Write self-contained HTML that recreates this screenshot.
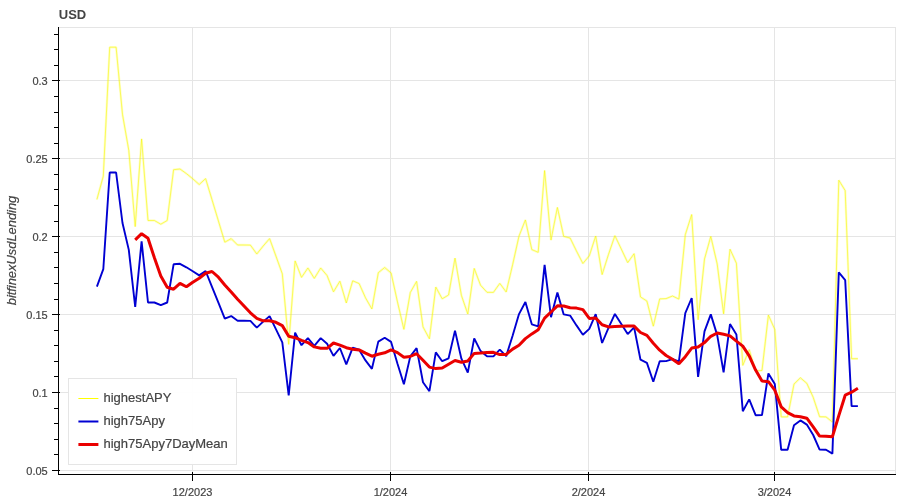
<!DOCTYPE html>
<html><head><meta charset="utf-8"><title>USD</title>
<style>html,body{margin:0;padding:0;background:#fff;overflow:hidden}body{width:900px;height:500px;font-family:"Liberation Sans",sans-serif}</style>
</head><body>
<svg width="900" height="500" viewBox="0 0 900 500" style="display:block;will-change:transform">
<rect x="0" y="0" width="900" height="500" fill="#ffffff"/>
<rect x="58.5" y="27.5" width="837" height="447" fill="none" stroke="#e5e5e5" stroke-width="1"/>
<line x1="192.5" y1="28" x2="192.5" y2="474" stroke="#e5e5e5" stroke-width="1"/>
<line x1="390.5" y1="28" x2="390.5" y2="474" stroke="#e5e5e5" stroke-width="1"/>
<line x1="588.5" y1="28" x2="588.5" y2="474" stroke="#e5e5e5" stroke-width="1"/>
<line x1="774.5" y1="28" x2="774.5" y2="474" stroke="#e5e5e5" stroke-width="1"/>
<line x1="59" y1="80.5" x2="895" y2="80.5" stroke="#e5e5e5" stroke-width="1"/>
<line x1="59" y1="158.5" x2="895" y2="158.5" stroke="#e5e5e5" stroke-width="1"/>
<line x1="59" y1="236.5" x2="895" y2="236.5" stroke="#e5e5e5" stroke-width="1"/>
<line x1="59" y1="314.5" x2="895" y2="314.5" stroke="#e5e5e5" stroke-width="1"/>
<line x1="59" y1="392.5" x2="895" y2="392.5" stroke="#e5e5e5" stroke-width="1"/>
<line x1="59" y1="470.5" x2="895" y2="470.5" stroke="#e5e5e5" stroke-width="1"/>
<polyline points="96.9,199.5 103.3,176.1 109.7,47.2 116.1,47.2 122.5,114.5 128.8,150.4 135.2,226.6 141.6,138.9 148.0,220.5 154.4,220.5 160.8,224.2 167.2,220.5 173.6,169.7 180.0,169.0 186.4,173.6 192.8,178.8 199.2,184.5 205.6,178.6 212.0,199.7 218.4,220.9 224.8,242.2 231.2,238.6 237.6,245.0 244.0,245.0 250.4,245.1 256.8,254.0 263.2,246.0 269.6,238.6 275.9,256.0 282.3,273.8 288.7,344.4 295.1,260.9 301.5,277.4 307.9,268.0 314.3,278.4 320.7,268.0 327.1,275.6 333.5,291.8 339.9,281.2 346.3,303.0 352.7,280.8 359.1,283.5 365.5,297.8 371.9,309.0 378.3,272.7 384.7,267.5 391.1,273.0 397.5,302.1 403.9,329.4 410.3,292.5 416.6,281.4 423.0,326.9 429.4,338.8 435.8,287.1 442.2,298.8 448.6,295.0 455.0,258.1 461.4,295.4 467.8,314.0 474.2,268.4 480.6,285.3 487.0,292.3 493.4,292.4 499.8,283.4 506.2,292.0 512.6,264.8 519.0,236.1 525.4,219.9 531.8,249.6 538.2,252.3 544.6,170.5 551.0,240.1 557.4,207.4 563.7,236.4 570.1,238.0 576.5,251.1 582.9,263.5 589.3,255.8 595.7,236.0 602.1,274.6 608.5,254.4 614.9,235.7 621.3,249.1 627.7,262.6 634.1,253.7 640.5,296.9 646.9,301.1 653.3,326.2 659.7,298.9 666.1,298.6 672.5,296.0 678.9,299.1 685.3,234.7 691.7,214.5 698.1,319.8 704.5,259.0 710.8,236.4 717.2,264.0 723.6,313.8 730.0,249.2 736.4,263.2 742.8,365.4 749.2,349.7 755.6,370.8 762.0,370.5 768.4,315.1 774.8,329.4 781.2,416.9 787.6,416.9 794.0,384.1 800.4,377.8 806.8,383.3 813.2,397.3 819.6,416.7 826.0,416.9 832.4,422.0 838.8,180.2 845.2,190.6 851.6,358.7 857.9,358.7" fill="none" stroke="#ffff00" stroke-opacity="0.22" stroke-width="2.4" stroke-linejoin="bevel"/>
<polyline points="96.9,199.5 103.3,176.1 109.7,47.2 116.1,47.2 122.5,114.5 128.8,150.4 135.2,226.6 141.6,138.9 148.0,220.5 154.4,220.5 160.8,224.2 167.2,220.5 173.6,169.7 180.0,169.0 186.4,173.6 192.8,178.8 199.2,184.5 205.6,178.6 212.0,199.7 218.4,220.9 224.8,242.2 231.2,238.6 237.6,245.0 244.0,245.0 250.4,245.1 256.8,254.0 263.2,246.0 269.6,238.6 275.9,256.0 282.3,273.8 288.7,344.4 295.1,260.9 301.5,277.4 307.9,268.0 314.3,278.4 320.7,268.0 327.1,275.6 333.5,291.8 339.9,281.2 346.3,303.0 352.7,280.8 359.1,283.5 365.5,297.8 371.9,309.0 378.3,272.7 384.7,267.5 391.1,273.0 397.5,302.1 403.9,329.4 410.3,292.5 416.6,281.4 423.0,326.9 429.4,338.8 435.8,287.1 442.2,298.8 448.6,295.0 455.0,258.1 461.4,295.4 467.8,314.0 474.2,268.4 480.6,285.3 487.0,292.3 493.4,292.4 499.8,283.4 506.2,292.0 512.6,264.8 519.0,236.1 525.4,219.9 531.8,249.6 538.2,252.3 544.6,170.5 551.0,240.1 557.4,207.4 563.7,236.4 570.1,238.0 576.5,251.1 582.9,263.5 589.3,255.8 595.7,236.0 602.1,274.6 608.5,254.4 614.9,235.7 621.3,249.1 627.7,262.6 634.1,253.7 640.5,296.9 646.9,301.1 653.3,326.2 659.7,298.9 666.1,298.6 672.5,296.0 678.9,299.1 685.3,234.7 691.7,214.5 698.1,319.8 704.5,259.0 710.8,236.4 717.2,264.0 723.6,313.8 730.0,249.2 736.4,263.2 742.8,365.4 749.2,349.7 755.6,370.8 762.0,370.5 768.4,315.1 774.8,329.4 781.2,416.9 787.6,416.9 794.0,384.1 800.4,377.8 806.8,383.3 813.2,397.3 819.6,416.7 826.0,416.9 832.4,422.0 838.8,180.2 845.2,190.6 851.6,358.7 857.9,358.7" fill="none" stroke="#f6f600" stroke-opacity="0.55" stroke-width="1" stroke-linejoin="bevel"/>
<polyline points="96.9,286.7 103.3,269.2 109.7,172.5 116.1,172.5 122.5,223.0 128.8,249.9 135.2,307.0 141.6,241.3 148.0,302.5 154.4,302.5 160.8,305.2 167.2,302.5 173.6,264.3 180.0,263.8 186.4,267.3 192.8,271.2 199.2,275.4 205.6,271.0 212.0,286.9 218.4,302.7 224.8,318.7 231.2,316.1 237.6,320.8 244.0,320.8 250.4,320.9 256.8,327.6 263.2,321.6 269.6,316.1 275.9,329.1 282.3,342.4 288.7,395.4 295.1,332.7 301.5,345.2 307.9,338.1 314.3,345.9 320.7,338.1 327.1,343.8 333.5,355.9 339.9,348.0 346.3,364.3 352.7,347.7 359.1,349.7 365.5,360.4 371.9,368.8 378.3,341.6 384.7,337.7 391.1,341.9 397.5,363.7 403.9,384.2 410.3,356.4 416.6,348.1 423.0,382.2 429.4,391.2 435.8,352.4 442.2,361.2 448.6,358.3 455.0,330.6 461.4,358.7 467.8,372.6 474.2,338.4 480.6,351.1 487.0,356.3 493.4,356.4 499.8,349.7 506.2,356.1 512.6,335.7 519.0,314.1 525.4,302.0 531.8,324.3 538.2,326.3 544.6,264.9 551.0,317.2 557.4,292.6 563.7,314.4 570.1,315.6 576.5,325.4 582.9,334.7 589.3,328.9 595.7,314.1 602.1,343.0 608.5,327.9 614.9,313.9 621.3,323.9 627.7,334.1 634.1,327.4 640.5,359.7 646.9,362.9 653.3,381.8 659.7,361.3 666.1,361.1 672.5,359.1 678.9,361.4 685.3,313.1 691.7,298.0 698.1,376.9 704.5,331.4 710.8,314.4 717.2,335.1 723.6,372.4 730.0,324.0 736.4,334.5 742.8,411.2 749.2,399.4 755.6,415.2 762.0,415.0 768.4,373.4 774.8,384.1 781.2,449.8 787.6,449.8 794.0,425.2 800.4,420.4 806.8,424.6 813.2,435.0 819.6,449.6 826.0,449.8 832.4,453.6 838.8,272.3 845.2,280.1 851.6,406.1 857.9,406.1" fill="none" stroke="#0000d2" stroke-width="1.9" stroke-linejoin="bevel"/>
<polyline points="135.2,239.8 141.6,233.7 148.0,238.2 154.4,257.8 160.8,276.1 167.2,287.2 173.6,289.2 180.0,283.4 186.4,286.8 192.8,282.3 199.2,278.3 205.6,273.3 212.0,271.5 218.4,277.2 224.8,285.0 231.2,292.1 237.6,299.3 244.0,306.0 250.4,312.8 256.8,318.3 263.2,320.8 269.6,320.8 275.9,322.3 282.3,325.6 288.7,336.2 295.1,337.7 301.5,340.4 307.9,342.6 314.3,346.9 320.7,348.2 327.1,348.3 333.5,343.0 339.9,345.1 346.3,347.7 352.7,349.3 359.1,349.9 365.5,353.2 371.9,356.2 378.3,354.3 384.7,352.8 391.1,349.8 397.5,352.6 403.9,357.2 410.3,356.5 416.6,353.7 423.0,360.2 429.4,367.1 435.8,368.6 442.2,368.0 448.6,364.2 455.0,360.5 461.4,362.2 467.8,361.0 474.2,353.4 480.6,353.1 487.0,352.4 493.4,352.3 499.8,354.6 506.2,354.4 512.6,349.1 519.0,345.2 525.4,338.6 531.8,333.9 538.2,329.7 544.6,318.1 551.0,312.0 557.4,305.8 563.7,306.0 570.1,307.8 576.5,308.1 582.9,309.6 589.3,318.4 595.7,318.1 602.1,324.8 608.5,326.9 614.9,326.6 621.3,326.3 627.7,326.0 634.1,326.1 640.5,332.5 646.9,335.4 653.3,343.3 659.7,350.2 666.1,355.5 672.5,359.3 678.9,363.8 685.3,356.7 691.7,348.1 698.1,347.1 704.5,342.6 710.8,336.3 717.2,333.0 723.6,334.3 730.0,335.9 736.4,341.1 742.8,346.1 749.2,355.9 755.6,370.1 762.0,381.1 768.4,381.7 774.8,390.2 781.2,406.9 787.6,412.6 794.0,415.9 800.4,416.7 806.8,418.2 813.2,426.8 819.6,436.1 826.0,436.3 832.4,436.8 838.8,415.6 845.2,395.2 851.6,392.2 857.9,388.3" fill="none" stroke="#ea0000" stroke-width="3" stroke-linejoin="bevel"/>
<line x1="58.5" y1="27" x2="58.5" y2="475" stroke="#000" stroke-width="1"/>
<line x1="58" y1="474.5" x2="896" y2="474.5" stroke="#000" stroke-width="1"/>
<line x1="52" y1="470.50" x2="60" y2="470.50" stroke="#000" stroke-width="1"/>
<line x1="54" y1="454.5" x2="58" y2="454.5" stroke="#000" stroke-width="1"/>
<line x1="54" y1="439.5" x2="58" y2="439.5" stroke="#000" stroke-width="1"/>
<line x1="54" y1="423.5" x2="58" y2="423.5" stroke="#000" stroke-width="1"/>
<line x1="54" y1="408.5" x2="58" y2="408.5" stroke="#000" stroke-width="1"/>
<line x1="52" y1="392.50" x2="60" y2="392.50" stroke="#000" stroke-width="1"/>
<line x1="54" y1="376.5" x2="58" y2="376.5" stroke="#000" stroke-width="1"/>
<line x1="54" y1="361.5" x2="58" y2="361.5" stroke="#000" stroke-width="1"/>
<line x1="54" y1="345.5" x2="58" y2="345.5" stroke="#000" stroke-width="1"/>
<line x1="54" y1="330.5" x2="58" y2="330.5" stroke="#000" stroke-width="1"/>
<line x1="52" y1="314.50" x2="60" y2="314.50" stroke="#000" stroke-width="1"/>
<line x1="54" y1="299.5" x2="58" y2="299.5" stroke="#000" stroke-width="1"/>
<line x1="54" y1="283.5" x2="58" y2="283.5" stroke="#000" stroke-width="1"/>
<line x1="54" y1="267.5" x2="58" y2="267.5" stroke="#000" stroke-width="1"/>
<line x1="54" y1="252.5" x2="58" y2="252.5" stroke="#000" stroke-width="1"/>
<line x1="52" y1="236.50" x2="60" y2="236.50" stroke="#000" stroke-width="1"/>
<line x1="54" y1="221.5" x2="58" y2="221.5" stroke="#000" stroke-width="1"/>
<line x1="54" y1="205.5" x2="58" y2="205.5" stroke="#000" stroke-width="1"/>
<line x1="54" y1="189.5" x2="58" y2="189.5" stroke="#000" stroke-width="1"/>
<line x1="54" y1="174.5" x2="58" y2="174.5" stroke="#000" stroke-width="1"/>
<line x1="52" y1="158.50" x2="60" y2="158.50" stroke="#000" stroke-width="1"/>
<line x1="54" y1="143.5" x2="58" y2="143.5" stroke="#000" stroke-width="1"/>
<line x1="54" y1="127.5" x2="58" y2="127.5" stroke="#000" stroke-width="1"/>
<line x1="54" y1="112.5" x2="58" y2="112.5" stroke="#000" stroke-width="1"/>
<line x1="54" y1="96.5" x2="58" y2="96.5" stroke="#000" stroke-width="1"/>
<line x1="52" y1="80.50" x2="60" y2="80.50" stroke="#000" stroke-width="1"/>
<line x1="54" y1="65.5" x2="58" y2="65.5" stroke="#000" stroke-width="1"/>
<line x1="54" y1="49.5" x2="58" y2="49.5" stroke="#000" stroke-width="1"/>
<line x1="54" y1="34.5" x2="58" y2="34.5" stroke="#000" stroke-width="1"/>
<line x1="192.5" y1="472" x2="192.5" y2="481" stroke="#000" stroke-width="1"/>
<line x1="390.5" y1="472" x2="390.5" y2="481" stroke="#000" stroke-width="1"/>
<line x1="588.5" y1="472" x2="588.5" y2="481" stroke="#000" stroke-width="1"/>
<line x1="774.5" y1="472" x2="774.5" y2="481" stroke="#000" stroke-width="1"/>
<text x="58.8" y="19.3" style="font-family:'Liberation Sans',sans-serif;fill:#444444;stroke:#444444;stroke-width:0.2px;stroke:none;font-size:13px;font-weight:bold">USD</text>
<text x="47.7" y="84.5" text-anchor="end" style="font-family:'Liberation Sans',sans-serif;fill:#444444;stroke:#444444;stroke-width:0.2px;font-size:11px">0.3</text>
<text x="47.7" y="162.5" text-anchor="end" style="font-family:'Liberation Sans',sans-serif;fill:#444444;stroke:#444444;stroke-width:0.2px;font-size:11px">0.25</text>
<text x="47.7" y="240.5" text-anchor="end" style="font-family:'Liberation Sans',sans-serif;fill:#444444;stroke:#444444;stroke-width:0.2px;font-size:11px">0.2</text>
<text x="47.7" y="318.5" text-anchor="end" style="font-family:'Liberation Sans',sans-serif;fill:#444444;stroke:#444444;stroke-width:0.2px;font-size:11px">0.15</text>
<text x="47.7" y="396.5" text-anchor="end" style="font-family:'Liberation Sans',sans-serif;fill:#444444;stroke:#444444;stroke-width:0.2px;font-size:11px">0.1</text>
<text x="47.7" y="474.5" text-anchor="end" style="font-family:'Liberation Sans',sans-serif;fill:#444444;stroke:#444444;stroke-width:0.2px;font-size:11px">0.05</text>
<text x="192.5" y="496" text-anchor="middle" style="font-family:'Liberation Sans',sans-serif;fill:#444444;stroke:#444444;stroke-width:0.2px;font-size:11px">12/2023</text>
<text x="390.5" y="496" text-anchor="middle" style="font-family:'Liberation Sans',sans-serif;fill:#444444;stroke:#444444;stroke-width:0.2px;font-size:11px">1/2024</text>
<text x="588.5" y="496" text-anchor="middle" style="font-family:'Liberation Sans',sans-serif;fill:#444444;stroke:#444444;stroke-width:0.2px;font-size:11px">2/2024</text>
<text x="774.5" y="496" text-anchor="middle" style="font-family:'Liberation Sans',sans-serif;fill:#444444;stroke:#444444;stroke-width:0.2px;font-size:11px">3/2024</text>
<text transform="translate(16,250.5) rotate(-90)" text-anchor="middle" style="font-family:'Liberation Sans',sans-serif;fill:#444444;stroke:#444444;stroke-width:0.2px;font-size:13px;font-style:italic;letter-spacing:-0.06px">bitfinexUsdLending</text>
<rect x="68.5" y="378.5" width="168" height="86" fill="#ffffff" fill-opacity="0.95" stroke="#e5e5e5" stroke-width="1"/>
<line x1="78.4" y1="398.5" x2="98.4" y2="398.5" stroke="#ffff00" stroke-width="1"/>
<text x="103.5" y="401.7" style="font-family:'Liberation Sans',sans-serif;fill:#444444;stroke:#444444;stroke-width:0.2px;font-size:13px">highestAPY</text>
<line x1="78.4" y1="421.5" x2="98.4" y2="421.5" stroke="#0000d2" stroke-width="2"/>
<text x="103.5" y="424.7" style="font-family:'Liberation Sans',sans-serif;fill:#444444;stroke:#444444;stroke-width:0.2px;font-size:13px">high75Apy</text>
<line x1="78.4" y1="444.5" x2="98.4" y2="444.5" stroke="#ea0000" stroke-width="3"/>
<text x="103.5" y="447.7" style="font-family:'Liberation Sans',sans-serif;fill:#444444;stroke:#444444;stroke-width:0.2px;font-size:13px">high75Apy7DayMean</text>
</svg>
</body></html>
